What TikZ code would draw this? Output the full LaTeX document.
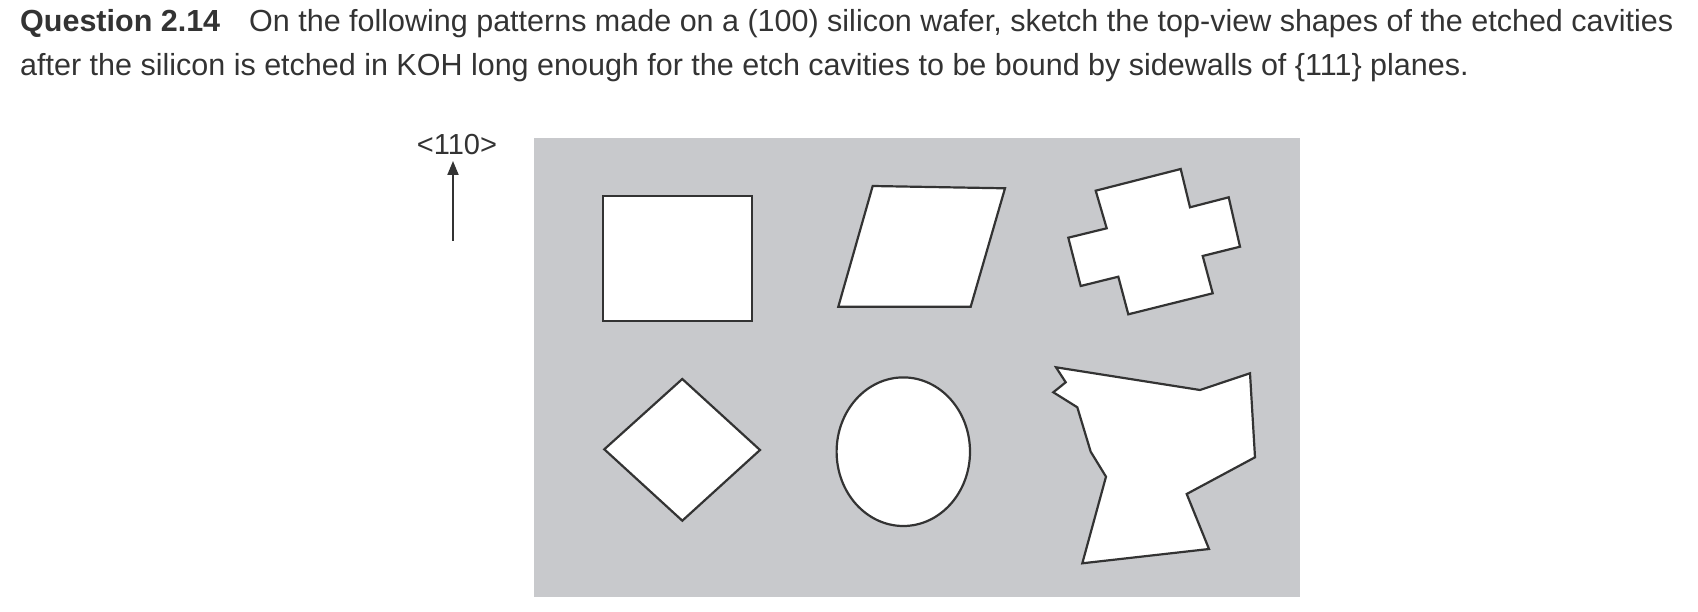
\documentclass[tikz,border=0pt]{standalone}
\usepackage{fontspec}
\setmainfont{Liberation Sans}
\usetikzlibrary{arrows.meta}
\definecolor{wafer}{RGB}{200,201,204}
\definecolor{ink}{RGB}{51,51,51}

\begin{document}
\begin{tikzpicture}[x=1pt, y=-1pt]
		%%%%% START %%%%%
		\useasboundingbox (0, 0) rectangle (1698, 612);
		
		\node[anchor=base west, inner sep=0, color=ink, font=\fontsize{30.5}{36}\selectfont] (line1) at (20, 32) {\textbf{Question 2.14}\hspace{0.95em}On the following patterns made on a (100) silicon wafer, sketch the top-view shapes of the etched cavities};
		\node[anchor=base west, inner sep=0, color=ink, font=\fontsize{30.5}{36}\selectfont] (line2) at (20, 75.5) {after the silicon is etched in KOH long enough for the etch cavities to be bound by sidewalls of \{111\} planes.};
		
		\fill[wafer] (534, 138) rectangle (1300, 597);
		
		\node[inner sep=0, color=ink, font=\fontsize{29}{34}\selectfont] (dir) at (457, 145) {<110>};
		\coordinate (tail) at (453, 241);
		\draw[line width=2, color=ink, -{Triangle[length=14, width=11]}] (tail) -- (453, 161);
		
		\draw[line width=2.2, color=ink, fill=white] (602.7, 196) rectangle (751.7, 320.7);
		\draw[line width=2.2, color=ink, fill=white] (872.7, 186) -- (1005, 188.3) -- (970.7, 306.7) -- (838.3, 306.7) -- cycle;
		\draw[line width=2.2, color=ink, fill=white] (1095.7, 190.7) -- (1180.7, 169) -- (1190, 207.3) -- (1228.7, 197.3) -- (1240, 246.7) -- (1202.7, 256) -- (1212.7, 293.3) -- (1128.3, 314.3) -- (1118.3, 276.7) -- (1080.7, 286) -- (1068.3, 237.7) -- (1106.7, 228.3) -- cycle;
		
		\draw[line width=2.2, color=ink, fill=white] (682.3, 379) -- (760, 450) -- (682.3, 520.7) -- (604.3, 449.3) -- cycle;
		\draw[line width=2.2, color=ink, fill=white] (903.3, 451.7) ellipse (66.7 and 74.3);
		\draw[line width=2.2, color=ink, fill=white, line join=miter] (1056, 367.3) -- (1200, 390) -- (1250, 373.3) -- (1255, 457.3) -- (1186.7, 494) -- (1209, 549) -- (1082.3, 563.3) -- (1106, 476.7) -- (1090.7, 451.7) -- (1077.3, 407.3) -- (1053.3, 392.3) -- (1065.7, 382.3) -- cycle;
		
		%%%%% END %%%%%
	\end{tikzpicture}
\end{document}
